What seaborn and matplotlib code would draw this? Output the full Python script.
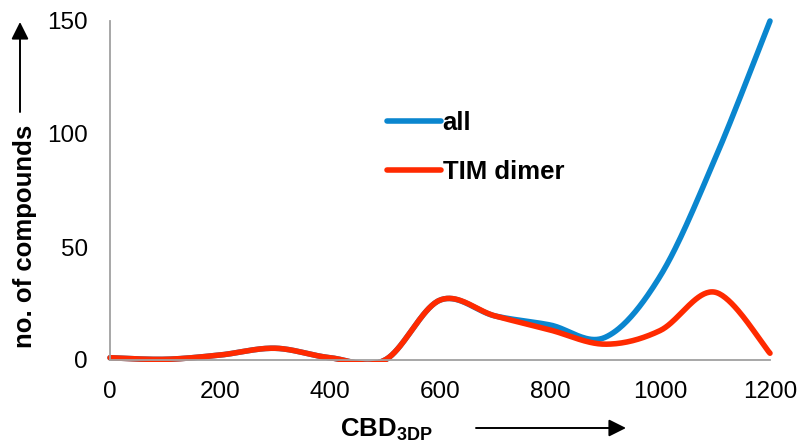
import numpy as np
import pandas as pd
import matplotlib
matplotlib.use("Agg")
import matplotlib.pyplot as plt
import seaborn as sns

# ---- data ----
cbd = [0, 100, 200, 300, 400, 500, 600, 700, 800, 900, 1000, 1100, 1200]
all_counts = [1, 0.3, 2.2, 5.2, 1.0, 0, 26.5, 19.5, 15.5, 10, 37, 89, 150]
tim_counts = [1, 0.3, 2.2, 5.2, 1.0, 0, 26.5, 19.5, 13.3, 7, 13, 30, 3]
series_names = ["all", "TIM dimer"]
x_ticks = [0, 200, 400, 600, 800, 1000, 1200]
y_ticks = [0, 50, 100, 150]


def smooth(xs, ys, n=40):
    """Excel-style smoothed line (Catmull-Rom / Bezier) through the points."""
    xs = np.asarray(xs, float)
    ys = np.asarray(ys, float)
    px = np.concatenate([[xs[0]], xs, [xs[-1]]])
    py = np.concatenate([[ys[0]], ys, [ys[-1]]])
    ox, oy = [], []
    t = np.linspace(0, 1, n, endpoint=False)
    for i in range(1, len(px) - 2):
        p0, p1, p2, p3 = (np.array([px[j], py[j]]) for j in (i - 1, i, i + 1, i + 2))
        c1 = p1 + (p2 - p0) / 6.0
        c2 = p2 - (p3 - p1) / 6.0
        b = ((1 - t) ** 3)[:, None] * p1 + (3 * (1 - t) ** 2 * t)[:, None] * c1 \
            + (3 * (1 - t) * t ** 2)[:, None] * c2 + (t ** 3)[:, None] * p2
        ox.extend(b[:, 0]); oy.extend(b[:, 1])
    ox.append(xs[-1]); oy.append(ys[-1])
    return np.array(ox), np.array(oy)


frames = []
for name, vals in zip(series_names, [all_counts, tim_counts]):
    sx, sy = smooth(cbd, vals)
    frames.append(pd.DataFrame({"CBD": sx, "count": sy, "series": name}))
df = pd.concat(frames, ignore_index=True)

sns.set_theme(style="white")
plt.rcParams["font.family"] = ["Liberation Sans", "DejaVu Sans"]
plt.rcParams["text.color"] = "black"
plt.rcParams["mathtext.fontset"] = "custom"
plt.rcParams["mathtext.rm"] = "Liberation Sans"
plt.rcParams["mathtext.bf"] = "Liberation Sans:bold"

fig = plt.figure(figsize=(8.05, 4.46), dpi=100)
ax = fig.add_axes([110 / 805, 1 - 360 / 446, 660 / 805, 339 / 446])

palette = {"all": "#0a86cf", "TIM dimer": "#ff2a00"}
LW = 4.0
sns.lineplot(data=df, x="CBD", y="count", hue="series", hue_order=series_names,
             palette=palette, linewidth=LW, sort=False, estimator=None,
             ax=ax, solid_capstyle="round")

ax.set_xlim(0, 1200)
ax.set_ylim(0, 150)

# let lines overlap the axes edge slightly (as in the reference), but trim deep undershoot
clip = matplotlib.patches.Rectangle((-30, -0.9), 1260, 200, transform=ax.transData,
                                    fill=False, visible=False)
ax.add_patch(clip)
for ln in ax.get_lines():
    ln.set_clip_path(clip)

ax.set_xticks(x_ticks)
ax.set_yticks(y_ticks)
ax.set_xlabel("")
ax.set_ylabel("")
for s in ["top", "right"]:
    ax.spines[s].set_visible(False)
for s in ["left", "bottom"]:
    ax.spines[s].set_color("#a0a0a0")
    ax.spines[s].set_linewidth(1.3)
ax.tick_params(axis="both", colors="#a0a0a0", length=6, width=1.3, direction="out",
               labelsize=17.5, labelcolor="black")
ax.tick_params(axis="y", pad=10)
ax.tick_params(axis="x", pad=9)

leg = ax.legend(loc="upper left", bbox_to_anchor=(267 / 660, 1 - 80 / 339), frameon=False,
                prop={"weight": "bold", "size": 18.5}, handlelength=2.1, handletextpad=0.05,
                labelspacing=0.95, borderaxespad=0, labelcolor="black")
for line in leg.get_lines():
    line.set_linewidth(LW)
    line.set_solid_capstyle("round")

# axis titles with arrows
fig.text(25 / 805, 1 - 236 / 446, "no. of compounds", rotation=90, ha="center", va="center",
         fontsize=18.5, fontweight="bold", color="black")
fig.add_artist(matplotlib.patches.FancyArrowPatch((20 / 805, 1 - 112 / 446), (20 / 805, 1 - 22 / 446),
               transform=fig.transFigure, arrowstyle="-|>", mutation_scale=26, color="black",
               lw=1.4, shrinkA=0, shrinkB=0))
fig.text(340 / 805, 1 - 437 / 446, r"$\mathbf{CBD_{3DP}}$", ha="left", va="baseline", fontsize=18.5,
         color="black")
fig.add_artist(matplotlib.patches.FancyArrowPatch((476 / 805, 1 - 428 / 446), (626 / 805, 1 - 428 / 446),
               transform=fig.transFigure, arrowstyle="-|>", mutation_scale=26, color="black",
               lw=1.4, shrinkA=0, shrinkB=0))

fig.savefig("out.png", dpi=100)
